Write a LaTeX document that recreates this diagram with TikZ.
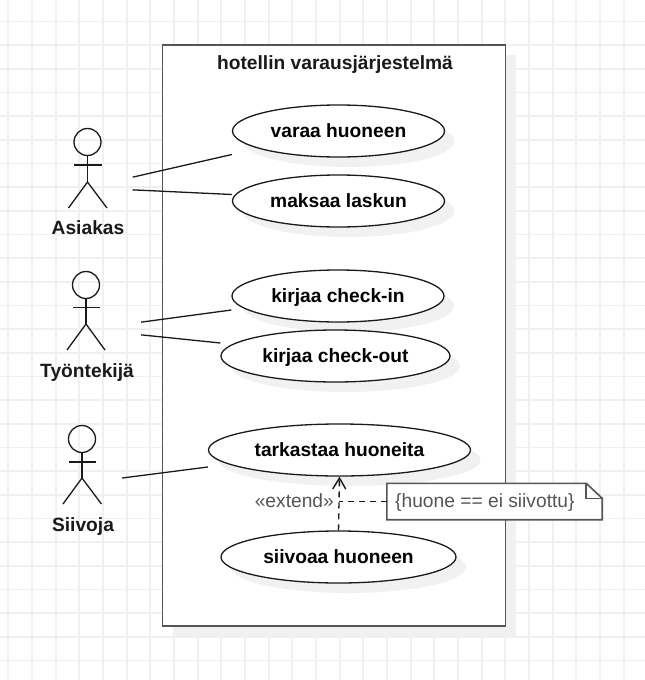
\documentclass[tikz,border=0pt]{standalone}
\usepackage{fontspec}
\setmainfont{Liberation Sans}
\usetikzlibrary{arrows.meta,shadows,shapes.geometric}
\definecolor{gridgray}{HTML}{F0F0F0}
\definecolor{shadegray}{HTML}{F1F1F1}
\definecolor{boxgray}{HTML}{555555}
\definecolor{inkgray}{HTML}{1A1A1A}
\begin{document}
\begin{tikzpicture}[x=1pt,y=-1pt]
\tikzstyle{every node}+=[inner sep=0pt]
\tikzstyle{usecase}=[draw=inkgray,line width=1.3pt,fill=white,ellipse,general shadow={shadow xshift=10pt,shadow yshift=-10pt,fill=shadegray},font=\fontsize{19.2}{22}\selectfont\bfseries,text height=15pt,text depth=3pt]
\tikzstyle{actorbox}=[minimum width=90pt,minimum height=80pt]
\tikzstyle{actorname}=[font=\fontsize{19.2}{22}\selectfont\bfseries,text=inkgray,text height=15pt,text depth=3pt]
\tikzstyle{plainlabel}=[font=\fontsize{19.2}{22}\selectfont,text=boxgray,text height=15pt,text depth=3pt]
\tikzstyle{limb}=[draw=inkgray,line width=1.3pt]
\tikzstyle{assoc}=[draw=inkgray,line width=1.3pt]
\tikzstyle{dashline}=[draw=inkgray,line width=1.4pt,dash pattern=on 6pt off 5pt]
\useasboundingbox (0,0) rectangle (645,680);
\fill [white] (0,0) rectangle (645,680);
% grid
\foreach \k in {0,...,27} \draw [gridgray,line width=1.8pt] (8.3+23.67*\k,0) -- (8.3+23.67*\k,680);
\foreach \k in {0,...,27} \draw [gridgray,line width=1.8pt] (0,21.5+23.67*\k) -- (645,21.5+23.67*\k);
% system box
\node (system) [draw=boxgray,line width=1.8pt,fill=white,minimum width=343pt,minimum height=581pt,general shadow={shadow xshift=10pt,shadow yshift=-10pt,fill=shadegray}] at (334,335.5) {};
\node (title) [actorname] at (335,63.5) {hotellin varausjärjestelmä};
% use cases
\node (varaa) [usecase,minimum width=212pt,minimum height=52pt] at (338.5,131) {varaa huoneen};
\node (maksaa) [usecase,minimum width=212pt,minimum height=52pt] at (338.5,201) {maksaa laskun};
\node (checkin) [usecase,minimum width=212pt,minimum height=52pt] at (338,296) {kirjaa check-in};
\node (checkout) [usecase,minimum width=229pt,minimum height=52pt] at (335.5,356) {kirjaa check-out};
\node (tarkastaa) [usecase,minimum width=262pt,minimum height=52pt] at (339.5,450) {tarkastaa huoneita};
\node (siivoaa) [usecase,minimum width=235pt,minimum height=52pt] at (338.5,557) {siivoaa huoneen};
% actors
\node (asiakas) [actorbox] at (87.5,183.5) {};
\draw [limb] (87.5,142) circle (13.5);
\draw [limb] (87.5,155.5) -- (87.5,182);
\draw [limb] (73.5,165) -- (101.5,165);
\draw [limb] (68.5,208) -- (87.5,182) -- (107,208);
\node (asiakasname) [actorname] at (88,228) {Asiakas};
\node (tyontekija) [actorbox] at (96,328.5) {};
\draw [limb] (86,285) circle (13.5);
\draw [limb] (86,298.5) -- (86,324);
\draw [limb] (72.5,307.5) -- (100,307.5);
\draw [limb] (67,350) -- (86,324) -- (105,350);
\node (tyontekijaname) [actorname] at (87,371) {Työntekijä};
\node (siivoja) [actorbox,minimum width=80pt] at (82,478) {};
\draw [limb] (82,439) circle (13.5);
\draw [limb] (82,452.5) -- (82,478);
\draw [limb] (68.5,462) -- (96,462);
\draw [limb] (63,504) -- (82,478) -- (101.5,504);
\node (siivojaname) [actorname] at (83,525) {Siivoja};
% associations
\draw [assoc] (asiakas.8) -- ([yshift=-23.5pt]varaa.west);
\draw [assoc] (asiakas.-8) -- ([yshift=6.5pt]maksaa.west);
\draw [assoc] (tyontekija.8) -- ([yshift=-14pt]checkin.west);
\draw [assoc] (tyontekija.-8) -- ([yshift=13pt]checkout.west);
\draw [assoc] (siivoja.east) -- ([yshift=-17pt]tarkastaa.west);
% extend and note
\node (extendlabel) [plainlabel,anchor=east] at (334,501) {«extend»};
\node (note) [draw=none,minimum width=215pt,minimum height=36pt] at (494.5,501.5) {};
\draw [boxgray,line width=1.6pt,fill=white] (note.north west) -- ([xshift=-16pt]note.north east) -- ([yshift=-15pt]note.north east) -- (note.south east) -- (note.south west) -- cycle;
\draw [boxgray,line width=1.6pt] ([xshift=-16pt]note.north east) -- ([xshift=-16pt,yshift=-15pt]note.north east) -- ([yshift=-15pt]note.north east);
\node (guard) [plainlabel,anchor=west] at (395,501) {\{huone == ei siivottu\}};
\draw [dashline,-{Straight Barb[length=11pt,width=13pt]}] (siivoaa.north) -- (tarkastaa.south);
\draw [dashline] (note.west) -- (339,501.5);
\end{tikzpicture}
\end{document}
